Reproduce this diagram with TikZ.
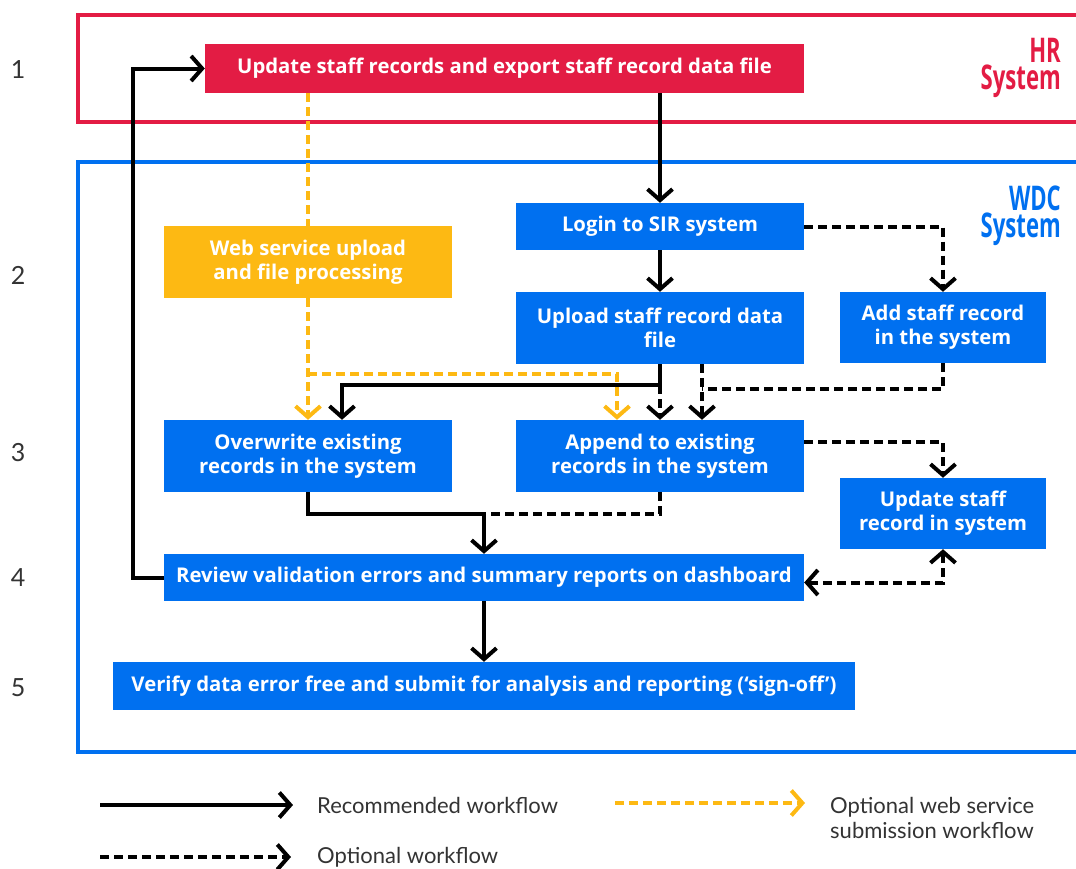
\documentclass[tikz,border=0pt]{standalone}
\usepackage{fontspec}
\setmainfont{Open Sans}
\newfontfamily\legendfont{Lato}
\usepackage{graphicx}
\usetikzlibrary{arrows.meta}
\definecolor{hrred}{HTML}{E31C44}
\definecolor{wdcblue}{HTML}{0070F0}
\definecolor{webgold}{HTML}{FDB913}

\begin{document}
\begin{tikzpicture}[x=1pt,y=-1pt,>={Straight Barb[length=11pt,width=25pt,line width=4pt]},
  stepbox/.style={fill=wdcblue,text=white,font=\bfseries\fontsize{20.3}{24}\selectfont,
    align=center,inner sep=0pt},
  flow/.style={line width=4pt,->},
  opt/.style={flow,dash pattern=on 9pt off 5pt},
  web/.style={opt,webgold},
  syslabel/.style={font=\bfseries\fontsize{34}{34}\selectfont,anchor=base east,inner sep=0pt,
    text height=24pt,text depth=0pt},
  legend/.style={font=\legendfont\fontsize{22}{25}\selectfont,anchor=west,align=left,inner sep=0pt,text=black!80}]
  \clip (0,0) rectangle (1076,868);
  %frames
  \draw[hrred,line width=4pt] (1090,15) -- (78,15) -- (78,122) -- (1090,122);
  \draw[wdcblue,line width=4pt] (1090,162) -- (78,162) -- (78,752) -- (1090,752);
  \node[syslabel,text=hrred] (hr) at (1061,62) {\scalebox{0.65}[1]{HR}};
  \node[syslabel,text=hrred] (hrsys) at (1061,89.5) {\scalebox{0.65}[1]{System}};
  \node[syslabel,text=wdcblue] (wdc) at (1061,210) {\scalebox{0.65}[1]{WDC}};
  \node[syslabel,text=wdcblue] (wdcsys) at (1061,237.5) {\scalebox{0.65}[1]{System}};
  \foreach \n/\y in {1/70,2/275,3/453,4/578,5/688}
    \node[font=\legendfont\fontsize{25}{25}\selectfont,text=black!80] (row\n) at (18,\y) {\n};
  %boxes
  \node[stepbox,fill=hrred,minimum width=599pt,minimum height=49pt] (upd) at (504.5,68.5)
    {Update staff records and export staff record data file};
  \node[stepbox,fill=webgold,minimum width=288pt,minimum height=72pt] (web) at (308,262)
    {Web service upload\\and file processing};
  \node[stepbox,minimum width=288pt,minimum height=47pt] (login) at (660,226.5) {Login to SIR system};
  \node[stepbox,minimum width=288pt,minimum height=72pt] (upload) at (660,328)
    {Upload staff record data\\file};
  \node[stepbox,minimum width=206pt,minimum height=71pt] (add) at (943,327.5)
    {Add staff record\\in the system};
  \node[stepbox,minimum width=288pt,minimum height=72pt] (over) at (308,456)
    {Overwrite existing\\records in the system};
  \node[stepbox,minimum width=288pt,minimum height=72pt] (app) at (660,456)
    {Append to existing\\records in the system};
  \node[stepbox,minimum width=206pt,minimum height=71pt] (updrec) at (943,513.5)
    {Update staff\\record in system};
  \node[stepbox,minimum width=640pt,minimum height=47pt] (review) at (484,577.5)
    {Review validation errors and summary reports on dashboard};
  \node[stepbox,minimum width=742pt,minimum height=48pt] (verify) at (484,686)
    {Verify data error free and submit for analysis and reporting (‘sign-off’)};
  \coordinate (split) at (660,385);
  \coordinate (join) at (484,514);
  \coordinate (addjoin) at (702,389);
  \coordinate (webjoin) at (308,374);
  %recommended
  \draw[flow] (upd.south -| login) -- (login);
  \draw[flow] (login) -- (upload);
  \draw[flow] (upload.south) -- (split) -| ([xshift=34pt]over.north);
  \draw[flow] (over.south) |- (join) -- (review.north);
  \draw[flow] (review) -- (verify);
  \draw[flow] (review.west) -- ++(-31,0) |- (upd.west);
  %optional
  \draw[opt] (split) -- (app.north);
  \draw[opt,-] (app.south) |- (join);
  \draw[opt] (login.east) -| (add.north);
  \draw[opt,-] (add.south) |- (addjoin);
  \draw[opt] ([xshift=42pt]upload.south) -- ([xshift=42pt]app.north);
  \draw[opt] ([yshift=14pt]app.east) -| (updrec.north);
  \draw[opt,<->] ([yshift=-5pt]review.east) -| (updrec.south);
  %web service
  \draw[web,-] (upd.south -| web) -- (web.north);
  \draw[web] (web.south) -- (over.north);
  \draw[web] (webjoin) -| ([xshift=-43pt]app.north);
  %legend
  \node[legend] (lrec) at (317,805) {Recommended workflow};
  \node[legend] (lopt) at (317,857) {Optional workflow};
  \node[legend] (lweb) at (830,818) {Optional web service\\submission workflow};
  \coordinate (lrecA) at (100,805);
  \coordinate (loptA) at (100,857);
  \coordinate (lwebA) at (615,803);
  \draw[flow] (lrecA) -- ([xshift=-24pt]lrec.west);
  \draw[opt] (loptA) -- ([xshift=-26pt]lopt.west);
  \draw[web] (lwebA) -- (805,803);
\end{tikzpicture}
\end{document}
